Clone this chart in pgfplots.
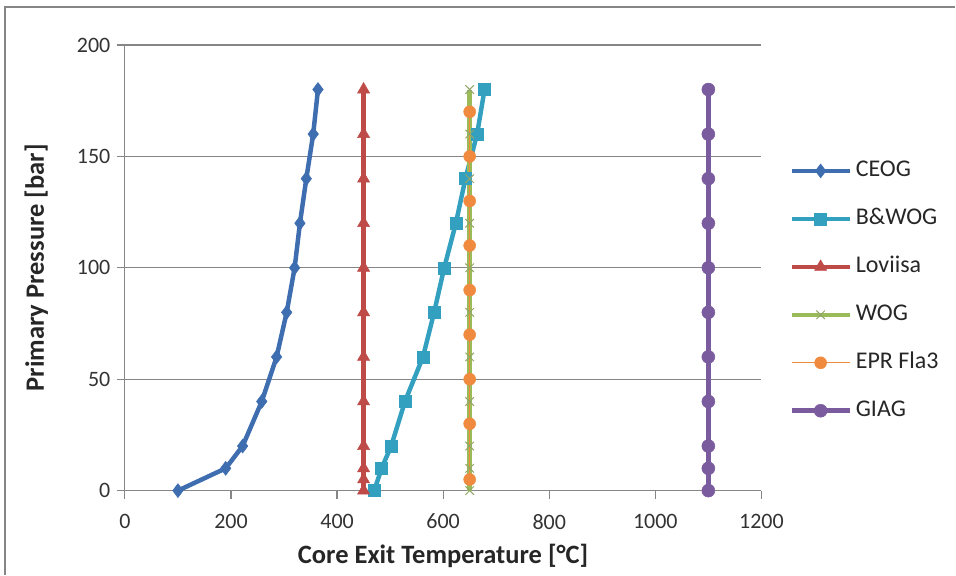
\documentclass[border=0pt]{standalone}
\usepackage{fontspec}
\setmainfont{Carlito}
\usepackage{pgfplots}
\pgfplotsset{compat=1.18}

\definecolor{ceog}{HTML}{3E6DB0}
\definecolor{bwog}{HTML}{34A0C0}
\definecolor{lovi}{HTML}{BE4B48}
\definecolor{wog}{HTML}{9BBB59}
\definecolor{epr}{HTML}{F08A3E}
\definecolor{giag}{HTML}{7A5C9E}
\definecolor{axgray}{HTML}{868686}

\begin{document}
\begin{tikzpicture}
\begin{axis}[
  scale only axis,
  width=637pt, height=446pt,
  xmin=0, xmax=1200, ymin=0, ymax=200,
  xtick={0,200,...,1200}, ytick={0,50,...,200},
  axis x line*=bottom, axis y line*=left,
  axis line style={axgray, line width=1.2pt},
  tick style={axgray, line width=1.2pt},
  tick align=outside, major tick length=8pt,
  ymajorgrids, grid style={axgray, line width=1.2pt},
  ticklabel style={font=\fontsize{22}{24}\selectfont, text=black!80},
  /pgf/number format/assume math mode=true,
  /pgf/number format/1000 sep={},
  xticklabel style={yshift=-12pt},
  yticklabel style={xshift=-3pt},
  xlabel={\textbf{Core Exit Temperature [°C]}},
  ylabel={\textbf{Primary Pressure [bar]}},
  label style={font=\fontsize{26.5}{28}\selectfont, text=black!85},
  xlabel style={yshift=-8pt},
  ylabel style={yshift=22pt},
  clip=false,
  legend style={draw=none, fill=none, at={(1.044,0.742)}, anchor=north west,
    inner sep=0pt, outer sep=0pt, row sep=26pt,
    font=\fontsize{24}{26}\selectfont, text=black!85,
    nodes={inner sep=0pt, text height=17pt, text depth=5pt},
    cells={anchor=west}},
  legend cell align=left,
  legend image code/.code={\draw[mark repeat=2,mark phase=2,#1]
    plot coordinates {(0pt,0pt) (29pt,0pt) (58pt,0pt)};},
]
% CEOG
\addplot[color=ceog, line width=4.5pt, mark=diamond*, mark size=7pt,
  mark options={solid, line width=0.5pt}] coordinates {
  (100,0) (190,10) (222,20) (258,40) (286,60) (305,80)
  (320,100) (330,120) (342,140) (355,160) (364,180)};
\addlegendentry{\,CEOG}
% B&WOG
\addplot[color=bwog, line width=4.5pt, mark=square*, mark size=6pt,
  mark options={solid, line width=0.5pt}] coordinates {
  (470,0) (484,10) (502,20) (528,40) (562,60) (583,80)
  (602,100) (624,120) (642,140) (664,160) (678,180)};
\addlegendentry{\,B\&WOG}
% Loviisa
\addplot[color=lovi, line width=4.5pt, mark=triangle*, mark size=7pt,
  mark options={solid, line width=0.5pt}] coordinates {
  (450,0) (450,5) (450,10) (450,20) (450,40) (450,60) (450,80)
  (450,100) (450,120) (450,140) (450,160) (450,180)};
\addlegendentry{\,Loviisa}
% WOG
\addplot[color=wog, line width=4.5pt, mark=x, mark size=6pt,
  mark options={solid, line width=1pt, color=wog!65!gray}] coordinates {
  (650,0) (650,5) (650,10) (650,20) (650,40) (650,60) (650,80)
  (650,100) (650,120) (650,140) (650,160) (650,180)};
\addlegendentry{\,WOG}
% EPR Fla3
\addplot[color=epr, line width=1.2pt, mark=*, mark size=6pt,
  mark options={solid, line width=0.5pt}] coordinates {
  (650,5) (650,30) (650,50) (650,70) (650,90)
  (650,110) (650,130) (650,150) (650,170)};
\addlegendentry{\,EPR Fla3}
% GIAG
\addplot[color=giag, line width=4.5pt, mark=*, mark size=6.5pt,
  mark options={solid, line width=0.5pt}] coordinates {
  (1100,0) (1100,10) (1100,20) (1100,40) (1100,60) (1100,80)
  (1100,100) (1100,120) (1100,140) (1100,160) (1100,180)};
\addlegendentry{\,GIAG}
\end{axis}
% chart frame
\draw[axgray, line width=1.5pt] (-120pt,-84pt) -- (-120pt,484pt) -- (831pt,484pt);
\useasboundingbox (-125pt,-84pt) rectangle (831pt,491pt);
\end{tikzpicture}
\end{document}
